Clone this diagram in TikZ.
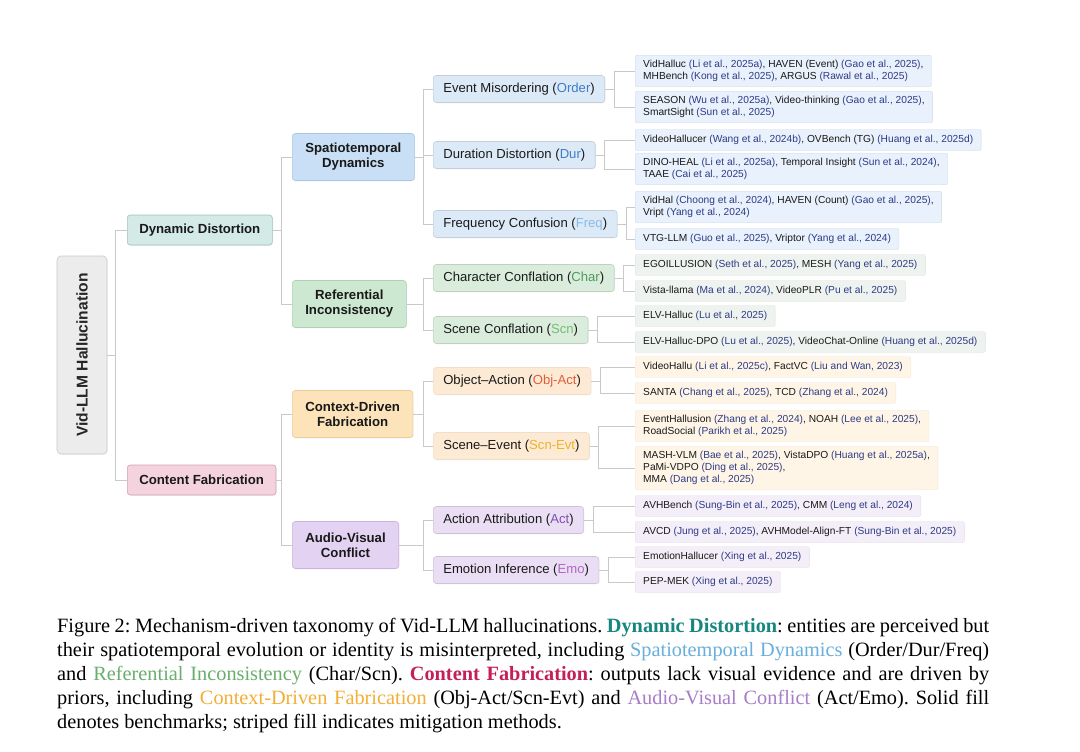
\documentclass[tikz,border=0pt]{standalone}
\usepackage{fontspec}
\usepackage{graphicx}
\setmainfont{Liberation Serif}
\newfontfamily\arialf{Liberation Sans}
\usetikzlibrary{shadows}
\definecolor{linegray}{HTML}{C9C9C9}
\definecolor{citec}{HTML}{2E3B86}
\definecolor{rootF}{HTML}{ECECEC}\definecolor{rootD}{HTML}{CBCBCB}
\definecolor{dynF}{HTML}{D3EAE7}\definecolor{dynD}{HTML}{9DC2BD}
\definecolor{fabF}{HTML}{F4D3DF}\definecolor{fabD}{HTML}{CFA2B5}
\definecolor{stF}{HTML}{C8DFF5}\definecolor{stD}{HTML}{A9C7E4}
\definecolor{riF}{HTML}{CDE8D0}\definecolor{riD}{HTML}{AFD0B3}
\definecolor{cdF}{HTML}{FCE3BA}\definecolor{cdD}{HTML}{EBCB96}
\definecolor{avF}{HTML}{E3D2F1}\definecolor{avD}{HTML}{C9B3DD}
\definecolor{stL}{HTML}{DCEAF8}\definecolor{riL}{HTML}{DAEDDC}
\definecolor{cdL}{HTML}{FDEAD4}\definecolor{avL}{HTML}{E9DEF4}
\definecolor{stLf}{HTML}{E8F1FC}\definecolor{riLf}{HTML}{EFF3EF}
\definecolor{cdLf}{HTML}{FEF5E6}\definecolor{avLf}{HTML}{F3EEF8}
\definecolor{ordC}{HTML}{3F7CC4}\definecolor{frqC}{HTML}{8DB9E8}
\definecolor{chrC}{HTML}{4E9A5C}\definecolor{scnC}{HTML}{72BF72}
\definecolor{oaC}{HTML}{E05F3A}\definecolor{seC}{HTML}{EDB32A}
\definecolor{actC}{HTML}{7E52B0}\definecolor{emoC}{HTML}{B266C6}
\definecolor{capDD}{HTML}{16877E}\definecolor{capST}{HTML}{69AEDD}
\definecolor{capRI}{HTML}{69AE6C}\definecolor{capCF}{HTML}{C51F58}
\definecolor{capCD}{HTML}{F3AE36}\definecolor{capAV}{HTML}{A77CC8}
\newcommand\mc[1]{\textcolor{citec}{#1}}
\begin{document}
\begin{tikzpicture}[x=1pt,y=-1pt,
  conn/.style={draw=linegray, line width=0.7pt},
  nbox/.style={rounded corners=3pt, line width=0.6pt, anchor=west, text=black!90,
    drop shadow={opacity=0.10, shadow xshift=0.7pt, shadow yshift=-0.9pt}},
  catA/.style={nbox, font=\arialf\bfseries\fontsize{13.2}{15}\selectfont, inner xsep=12pt, minimum height=30pt},
  catB/.style={nbox, font=\arialf\bfseries\fontsize{13.2}{15}\selectfont, align=center, inner xsep=13pt, minimum height=47pt},
  catC/.style={nbox, font=\arialf\fontsize{13.1}{15}\selectfont, inner xsep=10pt, minimum height=27pt},
  leaf/.style={rounded corners=2pt, anchor=west, font=\arialf\fontsize{10.2}{12}\selectfont, align=left,
    inner xsep=8pt, inner ysep=5pt, minimum height=21pt, line width=0.4pt, text=black!90},
  stleaf/.style={leaf, fill=stLf, draw=stLf!90!black},
  rileaf/.style={leaf, fill=riLf, draw=riLf!93!black},
  cdleaf/.style={leaf, fill=cdLf, draw=cdLf!95!black},
  avleaf/.style={leaf, fill=avLf, draw=avLf!93!black}]
\useasboundingbox[fill=white] (0,0) rectangle (1080,752);

% root
\node[rounded corners=4pt, fill=rootF, draw=rootD, line width=0.6pt, minimum width=50pt, minimum height=198pt,
  inner sep=0pt, font=\arialf\bfseries\fontsize{15.6}{18}\selectfont, text=black!85,
  drop shadow={opacity=0.10, shadow xshift=0.7pt, shadow yshift=-0.9pt}] (root) at (82,355)
  {\rotatebox{90}{Vid-LLM Hallucination}};

% level 1
\node[catA, fill=dynF, draw=dynD] (dyn) at (127,230) {Dynamic Distortion};
\node[catA, fill=fabF, draw=fabD] (fab) at (127,480) {Content Fabrication};

% level 2
\node[catB, fill=stF, draw=stD] (st) at (292,157) {Spatiotemporal\\Dynamics};
\node[catB, fill=riF, draw=riD] (ri) at (292,304) {Referential\\Inconsistency};
\node[catB, fill=cdF, draw=cdD] (cd) at (292,414) {Context-Driven\\Fabrication};
\node[catB, fill=avF, draw=avD] (av) at (292,545) {Audio-Visual\\Conflict};

% level 3
\node[catC, fill=stL, draw=stL!88!black] (ord) at (433,89) {Event Misordering (\textcolor{ordC}{Order})};
\node[catC, fill=stL, draw=stL!88!black] (dur) at (433,155) {Duration Distortion (\textcolor{ordC}{Dur})};
\node[catC, fill=stL, draw=stL!88!black] (frq) at (433,224) {Frequency Confusion (\textcolor{frqC}{Freq})};
\node[catC, fill=riL, draw=riL!88!black] (chr) at (433,278) {Character Conflation (\textcolor{chrC}{Char})};
\node[catC, fill=riL, draw=riL!88!black] (scn) at (433,330) {Scene Conflation (\textcolor{scnC}{Scn})};
\node[catC, fill=cdL, draw=cdL!95!black] (oa) at (433,381) {Object–Action (\textcolor{oaC}{Obj-Act})};
\node[catC, fill=cdL, draw=cdL!95!black] (se) at (433,446) {Scene–Event (\textcolor{seC}{Scn-Evt})};
\node[catC, fill=avL, draw=avL!88!black] (act) at (433,520) {Action Attribution (\textcolor{actC}{Act})};
\node[catC, fill=avL, draw=avL!88!black] (emo) at (433,570) {Emotion Inference (\textcolor{emoC}{Emo})};

% leaves
\node[stleaf] (l1) at (635,71) {VidHalluc \mc{(Li et al., 2025a)}, HAVEN (Event) \mc{(Gao et al., 2025)},\\MHBench \mc{(Kong et al., 2025)}, ARGUS \mc{(Rawal et al., 2025)}};
\node[stleaf] (l2) at (635,107) {SEASON \mc{(Wu et al., 2025a)}, Video-thinking \mc{(Gao et al., 2025)},\\SmartSight \mc{(Sun et al., 2025)}};
\node[stleaf] (l3) at (635,140) {VideoHallucer \mc{(Wang et al., 2024b)}, OVBench (TG) \mc{(Huang et al., 2025d)}};
\node[stleaf] (l4) at (635,169) {DINO-HEAL \mc{(Li et al., 2025a)}, Temporal Insight \mc{(Sun et al., 2024)},\\TAAE \mc{(Cai et al., 2025)}};
\node[stleaf] (l5) at (635,207) {VidHal \mc{(Choong et al., 2024)}, HAVEN (Count) \mc{(Gao et al., 2025)},\\Vript \mc{(Yang et al., 2024)}};
\node[stleaf] (l6) at (635,239) {VTG-LLM \mc{(Guo et al., 2025)}, Vriptor \mc{(Yang et al., 2024)}};
\node[rileaf] (l7) at (635,265) {EGOILLUSION \mc{(Seth et al., 2025)}, MESH \mc{(Yang et al., 2025)}};
\node[rileaf] (l8) at (635,291) {Vista-llama \mc{(Ma et al., 2024)}, VideoPLR \mc{(Pu et al., 2025)}};
\node[rileaf] (l9) at (635,316) {ELV-Halluc \mc{(Lu et al., 2025)}};
\node[rileaf] (l10) at (635,342) {ELV-Halluc-DPO \mc{(Lu et al., 2025)}, VideoChat-Online \mc{(Huang et al., 2025d)}};
\node[cdleaf] (l11) at (635,367) {VideoHallu \mc{(Li et al., 2025c)}, FactVC \mc{(Liu and Wan, 2023)}};
\node[cdleaf] (l12) at (635,393) {SANTA \mc{(Chang et al., 2025)}, TCD \mc{(Zhang et al., 2024)}};
\node[cdleaf] (l13) at (635,426) {EventHallusion \mc{(Zhang et al., 2024)}, NOAH \mc{(Lee et al., 2025)},\\RoadSocial \mc{(Parikh et al., 2025)}};
\node[cdleaf] (l14) at (635,468) {MASH-VLM \mc{(Bae et al., 2025)}, VistaDPO \mc{(Huang et al., 2025a)},\\PaMi-VDPO \mc{(Ding et al., 2025)},\\MMA \mc{(Dang et al., 2025)}};
\node[avleaf] (l15) at (635,506) {AVHBench \mc{(Sung-Bin et al., 2025)}, CMM \mc{(Leng et al., 2024)}};
\node[avleaf] (l16) at (635,532) {AVCD \mc{(Jung et al., 2025)}, AVHModel-Align-FT \mc{(Sung-Bin et al., 2025)}};
\node[avleaf] (l17) at (635,557) {EmotionHallucer \mc{(Xing et al., 2025)}};
\node[avleaf] (l18) at (635,582) {PEP-MEK \mc{(Xing et al., 2025)}};

% connectors
\coordinate (f0) at (115,0);
\coordinate (f1) at (281,0);
\coordinate (f2) at (423,0);
\draw[conn] (root.east) -- (root.east -| f0);
\draw[conn] (root.east -| f0) |- (dyn.west);
\draw[conn] (root.east -| f0) |- (fab.west);
\draw[conn] (dyn.east) -- (dyn.east -| f1) |- (st.west);
\draw[conn] (dyn.east -| f1) |- (ri.west);
\draw[conn] (fab.east) -- (fab.east -| f1) |- (cd.west);
\draw[conn] (fab.east -| f1) |- (av.west);
\draw[conn] (st.east) -- (st.east -| f2) |- (ord.west);
\draw[conn] (st.east -| f2) |- (dur.west);
\draw[conn] (st.east -| f2) |- (frq.west);
\draw[conn] (ri.east) -- (ri.east -| f2) |- (chr.west);
\draw[conn] (ri.east -| f2) |- (scn.west);
\draw[conn] (cd.east) -- (cd.east -| f2) |- (oa.west);
\draw[conn] (cd.east -| f2) |- (se.west);
\draw[conn] (av.east) -- (av.east -| f2) |- (act.west);
\draw[conn] (av.east -| f2) |- (emo.west);
\foreach \p/\a/\b in {ord/l1/l2, dur/l3/l4, frq/l5/l6, chr/l7/l8, scn/l9/l10, oa/l11/l12, se/l13/l14, act/l15/l16, emo/l17/l18}{
  \draw[conn] (\p.east) -- ++(9,0) |- (\a.west);
  \draw[conn] (\p.east) ++(9,0) |- (\b.west);
}

% caption
\node[anchor=north west, inner sep=0pt, text width=932pt, align=justify, text=black,
  font=\fontsize{20.3}{24}\selectfont\frenchspacing] (cap) at (57,618)
 {Figure 2: Mechanism-driven taxonomy of Vid-LLM hallucinations. \textcolor{capDD}{\textbf{Dynamic Distortion}}: entities are perceived but\linebreak
 their spatiotemporal evolution or identity is misinterpreted, including \textcolor{capST}{Spatiotemporal Dynamics} (Order/Dur/Freq)\linebreak
 and \textcolor{capRI}{Referential Inconsistency} (Char/Scn). \textcolor{capCF}{\textbf{Content Fabrication}}: outputs lack visual evidence and are driven by\linebreak
 priors, including \textcolor{capCD}{Context-Driven Fabrication} (Obj-Act/Scn-Evt) and \textcolor{capAV}{Audio-Visual Conflict} (Act/Emo). Solid fill\linebreak
 denotes benchmarks; striped fill indicates mitigation methods.};
\end{tikzpicture}
\end{document}
